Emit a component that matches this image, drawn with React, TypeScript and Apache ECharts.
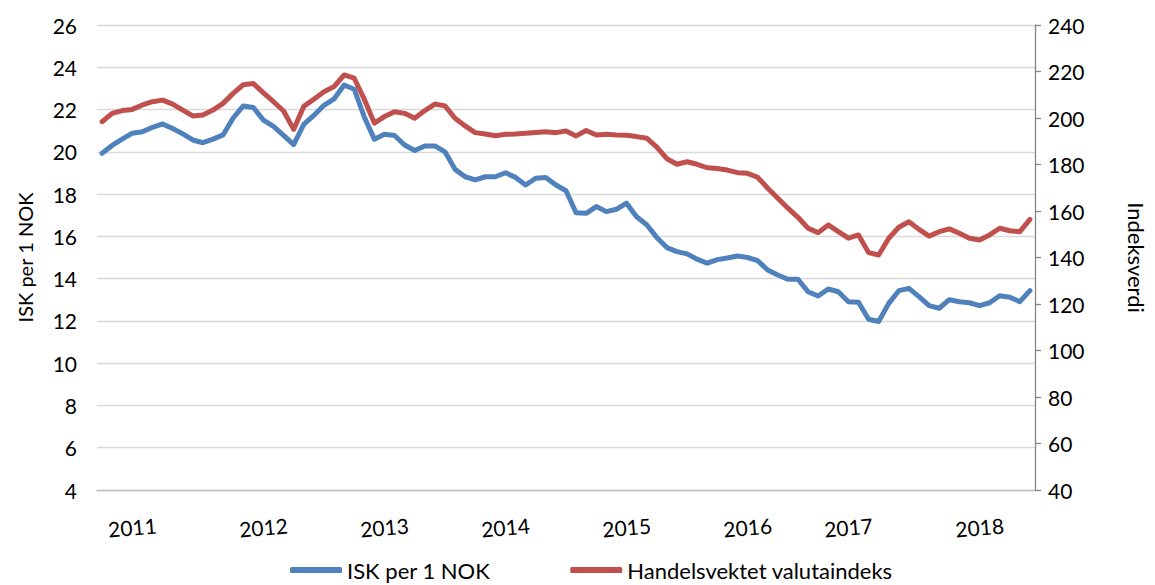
import React, { useEffect, useRef } from "react";
import * as echarts from "echarts";

const startYear = 2011;
const monthCount = 93;
const categories: string[] = Array.from({ length: monthCount }, (_, i) => {
  const y = startYear + Math.floor(i / 12);
  const m = (i % 12) + 1;
  return `${y}-${m < 10 ? "0" + m : m}`;
});

const yearLabelIdx = [3, 16, 28, 40, 52, 64, 74, 87];

const iskPerNok = [
  19.93, 20.3, 20.6, 20.88, 20.95, 21.16, 21.32, 21.1, 20.85, 20.56,
  20.43, 20.6, 20.8, 21.6, 22.17, 22.1, 21.5, 21.2, 20.78, 20.34,
  21.3, 21.72, 22.2, 22.5, 23.16, 22.96, 21.65, 20.6, 20.83, 20.77,
  20.32, 20.06, 20.28, 20.28, 20.0, 19.17, 18.82, 18.67, 18.82, 18.82,
  19.01, 18.79, 18.43, 18.75, 18.79, 18.43, 18.16, 17.12, 17.09, 17.41,
  17.17, 17.28, 17.57, 16.93, 16.55, 15.95, 15.47, 15.28, 15.17, 14.92,
  14.73, 14.9, 14.98, 15.07, 15.0, 14.85, 14.41, 14.17, 13.97, 13.97,
  13.38, 13.18, 13.51, 13.38, 12.91, 12.88, 12.08, 11.97, 12.83, 13.43,
  13.54, 13.15, 12.72, 12.6, 13.0, 12.91, 12.86, 12.72, 12.86, 13.19,
  13.12, 12.91, 13.43,
];

const handelsvektet = [
  198.4, 202.0, 203.2, 203.7, 205.6, 207.0, 207.7, 206.0, 203.4, 200.9,
  201.3, 203.4, 206.3, 210.6, 214.3, 214.8, 210.8, 207.0, 203.0, 195.1,
  205.0, 208.1, 211.3, 213.5, 218.5, 217.1, 208.1, 197.8, 200.6, 202.7,
  202.0, 199.9, 203.2, 206.0, 205.2, 199.9, 196.6, 193.7, 193.1, 192.4,
  193.0, 193.1, 193.4, 193.8, 194.1, 193.7, 194.4, 192.3, 194.6, 192.7,
  193.0, 192.7, 192.6, 192.0, 191.3, 187.5, 182.5, 180.1, 181.2, 180.1,
  178.6, 178.3, 177.6, 176.5, 176.2, 174.5, 169.8, 165.5, 161.2, 157.3,
  152.6, 150.7, 154.0, 151.1, 148.3, 149.7, 142.1, 141.1, 148.3, 153.0,
  155.4, 152.1, 149.2, 151.1, 152.3, 150.4, 148.3, 147.5, 149.7, 152.6,
  151.5, 151.1, 156.4,
];

const seriesNames = ["ISK per 1 NOK", "Handelsvektet valutaindeks"];
const leftAxisName = "ISK per 1 NOK";
const rightAxisName = "Indeksverdi";

const FONT = "Lato";

export default function App() {
  const ref = useRef<HTMLDivElement>(null);
  useEffect(() => {
    document.documentElement.style.overflow = "hidden";
    document.body.style.margin = "0";
    document.body.style.overflow = "hidden";
    if (!ref.current) return;
    const chart = echarts.init(ref.current, undefined, { renderer: "svg" });
    chart.setOption({
      animation: false,
      backgroundColor: "#ffffff",
      textStyle: { fontFamily: FONT },
      grid: { left: 97, right: 103, top: 25, bottom: 95, containLabel: false },
      legend: {
        left: 290,
        top: 559,
        padding: 0,
        itemGap: 80,
        itemWidth: 52,
        itemHeight: 6,
        icon: "roundRect",
        textStyle: { fontFamily: FONT, fontSize: 22, color: "#000", lineHeight: 22 },
        data: seriesNames,
      },
      xAxis: {
        type: "category",
        data: categories,
        boundaryGap: true,
        axisLine: { show: true, lineStyle: { color: "#BFBFBF", width: 1.3 } },
        axisTick: { show: false },
        splitLine: { show: false },
        axisLabel: {
          interval: (index: number) => yearLabelIdx.includes(index),
          formatter: (v: string) => v.slice(0, 4),
          rotate: 5,
          align: "center",
          verticalAlign: "middle",
          margin: 37,
          fontFamily: FONT,
          fontSize: 21,
          color: "#000",
        },
      },
      yAxis: [
        {
          type: "value",
          min: 4,
          max: 26,
          interval: 2,
          position: "left",
          name: leftAxisName,
          nameLocation: "middle",
          nameGap: 62,
          nameTextStyle: { fontFamily: FONT, fontSize: 20, color: "#000" },
          axisLine: { show: false },
          axisTick: { show: false },
          axisLabel: { margin: 20, fontFamily: FONT, fontSize: 21, color: "#000" },
          splitLine: { show: true, lineStyle: { color: "#D9D9D9", width: 1.3 } },
        },
        {
          type: "value",
          min: 40,
          max: 240,
          interval: 20,
          position: "right",
          name: rightAxisName,
          nameLocation: "middle",
          nameGap: 90,
          nameRotate: -90,
          nameTextStyle: { fontFamily: FONT, fontSize: 22, color: "#000" },
          axisLine: { show: true, lineStyle: { color: "#868686", width: 1.3 } },
          axisTick: { show: true, length: 6, lineStyle: { color: "#868686", width: 1.3 } },
          axisLabel: { margin: 13, fontFamily: FONT, fontSize: 21, color: "#000" },
          splitLine: { show: false },
        },
      ],
      series: [
        {
          name: seriesNames[0],
          type: "line",
          yAxisIndex: 0,
          data: iskPerNok,
          symbol: "none",
          smooth: false,
          color: "#4F81BD",
          lineStyle: { width: 5, color: "#4F81BD", cap: "round", join: "round" },
        },
        {
          name: seriesNames[1],
          type: "line",
          yAxisIndex: 1,
          data: handelsvektet,
          symbol: "none",
          smooth: false,
          color: "#C0504D",
          lineStyle: { width: 5, color: "#C0504D", cap: "round", join: "round" },
        },
      ],
    });
    return () => chart.dispose();
  }, []);
  return (
    <div
      ref={ref}
      style={{ position: "fixed", left: 0, top: 0, width: 1155, height: 585 }}
    />
  );
}
